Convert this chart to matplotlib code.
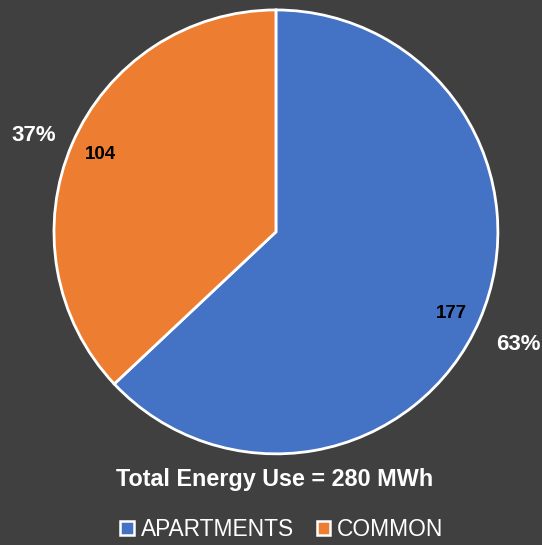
import matplotlib.pyplot as plt
from matplotlib.patches import Patch
import numpy as np

plt.rcParams['font.family'] = ['Liberation Sans', 'DejaVu Sans']

labels = ["APARTMENTS", "COMMON"]
values = [177, 104]
percents = ["63%", "37%"]
colors = ["#4472C4", "#ED7D31"]
title = "Total Energy Use = 280 MWh"
bg = "#404040"

fig = plt.figure(figsize=(5.42, 5.45), dpi=100, facecolor=bg)
ax = fig.add_axes([0.0996, 0.167, 0.819, 0.815])
ax.set_facecolor(bg)

wedges, _ = ax.pie(values, colors=colors, startangle=90, counterclock=False,
                   wedgeprops=dict(edgecolor="white", linewidth=2))
ax.set_xlim(-1.0, 1.0)
ax.set_ylim(-1.0, 1.0)
ax.set_aspect("equal")
ax.axis("off")

for w, v, p in zip(wedges, values, percents):
    mid = (w.theta1 + w.theta2) / 2
    a_in = np.deg2rad(mid - 1.0)
    a_out = np.deg2rad(mid)
    ax.annotate(str(v), (0.87 * np.cos(a_in), 0.87 * np.sin(a_in)),
                ha="center", va="center_baseline", fontsize=13.5,
                fontweight="bold", color="black", annotation_clip=False)
    ax.annotate(p, (1.19 * np.cos(a_out), 1.19 * np.sin(a_out)),
                xytext=(0, -4), textcoords="offset points",
                ha="center", va="center_baseline", fontsize=16,
                fontweight="bold", color="white", annotation_clip=False)

fig.text(0.507, 0.121, title, ha="center", va="center", fontsize=16.8,
         fontweight="bold", color="white")

handles = [Patch(facecolor=c, edgecolor="white", linewidth=1.8) for c in colors]
fig.legend(handles, labels, loc="center", bbox_to_anchor=(0.52, 0.028), ncol=2,
           frameon=False, fontsize=16.4, labelcolor="white", handlelength=0.6,
           handleheight=0.6, handletextpad=0.3, columnspacing=1.0)

fig.savefig("out.png", dpi=100, facecolor=bg)
